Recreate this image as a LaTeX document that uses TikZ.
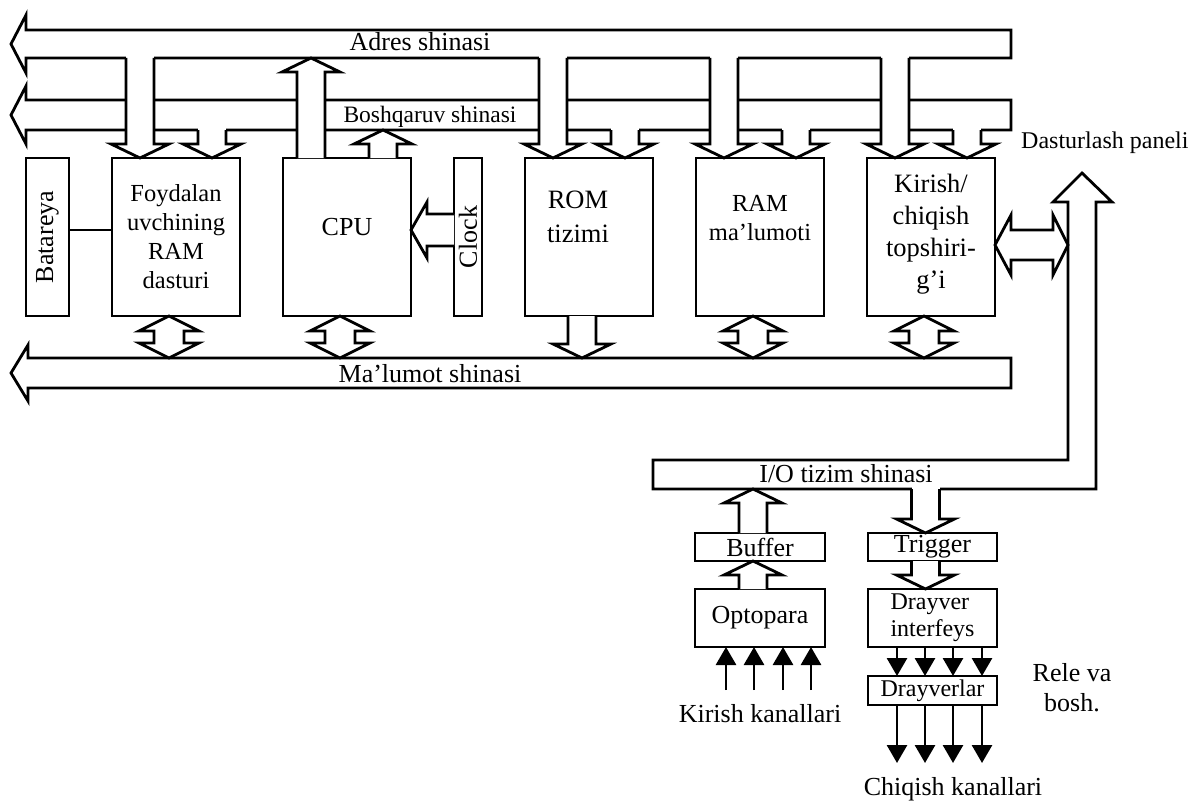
\documentclass[tikz,border=0pt]{standalone}
\usepackage{fontspec}
\setmainfont{Liberation Serif}
\usepackage{tikz}
\usetikzlibrary{arrows.meta, positioning, calc}

\tikzset{
  fatline/.style={draw=black, line width=2.8pt, line join=miter},
  busline/.style={draw=black, fill=white, line width=2.8pt, line join=miter},
  unitbox/.style={draw, fill=white, line width=2.8pt, anchor=north west, inner sep=0pt, outer sep=0pt,
    minimum width=128pt, minimum height=158pt},
  smallbox/.style={draw, fill=white, line width=2.8pt, anchor=north west, inner sep=0pt, outer sep=0pt,
    minimum width=129pt, minimum height=28pt, font=\fontsize{26}{30}\selectfont},
  boxtext/.style={align=center, inner sep=0pt, font=\fontsize{26}{30}\selectfont},
  buslabel/.style={inner sep=0pt, anchor=base, font=\fontsize{26}{30}\selectfont},
  wire/.style={line width=2.8pt, -{Triangle[length=18pt, width=20pt]}},
}

% wide arrows, drawn as outlines
\newcommand{\fatdown}[2]{%
  \filldraw[fatline, fill=white] ($(#1)+(-14,0)$) -- ($(#2)+(-14,-14)$) -- ($(#2)+(-29,-14)$) -- (#2)
    -- ($(#2)+(29,-14)$) -- ($(#2)+(14,-14)$) -- ($(#1)+(14,0)$);
}
\newcommand{\busdrop}[2]{%
  \fill[white] ($(#1)+(-14,-2)$) rectangle ($(#1)+(14,2)$);
  \fatdown{#1}{#2}
}
\newcommand{\fatup}[2]{%
  \filldraw[fatline, fill=white] ($(#1)+(-14,0)$) -- ($(#2)+(-14,14)$) -- ($(#2)+(-29,14)$) -- (#2)
    -- ($(#2)+(29,14)$) -- ($(#2)+(14,14)$) -- ($(#1)+(14,0)$);
}
\newcommand{\fatleft}[2]{%
  \filldraw[fatline, fill=white] ($(#1)+(0,-16)$) -- ($(#2)+(16,-16)$) -- ($(#2)+(16,-28)$) -- (#2)
    -- ($(#2)+(16,28)$) -- ($(#2)+(16,16)$) -- ($(#1)+(0,16)$);
}
\newcommand{\dualv}[2]{%
  \filldraw[fatline, fill=white] (#1) -- ($(#1)+(30,15)$) -- ($(#1)+(15,15)$) -- ($(#2)+(15,-15)$)
    -- ($(#2)+(30,-15)$) -- (#2) -- ($(#2)+(-30,-15)$) -- ($(#2)+(-15,-15)$) -- ($(#1)+(-15,15)$)
    -- ($(#1)+(-30,15)$) -- cycle;
}
\newcommand{\dualh}[2]{%
  \filldraw[fatline, fill=white] (#1) -- ($(#1)+(16,-30)$) -- ($(#1)+(16,-15)$) -- ($(#2)+(-15,-15)$)
    -- ($(#2)+(-15,-30)$) -- (#2) -- ($(#2)+(-15,30)$) -- ($(#2)+(-15,15)$) -- ($(#1)+(16,15)$)
    -- ($(#1)+(16,30)$) -- cycle;
}

\begin{document}
\begin{tikzpicture}[x=1pt, y=-1pt]
  \useasboundingbox (0,0) rectangle (1193,800);

  % buses
  \draw[busline] (1011,30) -- (26,30) -- (26,15) -- (11,44) -- (26,73) -- (26,58) -- (1011,58) -- cycle;
  \draw[busline] (1011,100) -- (26,100) -- (26,86) -- (11,115) -- (26,144) -- (26,130) -- (1011,130) -- cycle;
  \draw[busline] (1011,358) -- (28,358) -- (28,345) -- (11,373) -- (28,401) -- (28,388) -- (1011,388) -- cycle;
  \draw[busline] (1068,202) -- (1068,460) -- (653,460) -- (653,489) -- (1096,489) -- (1096,202)
    -- (1112,202) -- (1082,173) -- (1053,202) -- cycle;
  \coordinate (adrS) at (0,58);
  \coordinate (ctlS) at (0,130);
  \coordinate (datN) at (0,358);
  \coordinate (ioS) at (0,489);
  \coordinate (panW) at (1068,0);

  \node[buslabel] (adrlbl) at (420,51) {Adres shinasi};
  \node[buslabel, font=\fontsize{23.5}{28}\selectfont] (ctllbl) at (430,122) {Boshqaruv shinasi};
  \node[buslabel] (datlbl) at (430,382) {Ma’lumot shinasi};
  \node[buslabel] (iolbl) at (846,482) {I/O tizim shinasi};
  \node[buslabel, anchor=base west, font=\fontsize{24}{28}\selectfont] (panlbl) at (1021,148) {Dasturlash paneli};

  % main blocks
  \node[unitbox, minimum width=43pt] (bat) at (26,158) {};
  \node[unitbox, right=43pt of bat] (user) {};
  \node[unitbox, right=43pt of user] (cpu) {};
  \node[unitbox, minimum width=28pt, right=43pt of cpu] (clk) {};
  \node[unitbox, right=43pt of clk] (rom) {};
  \node[unitbox, right=43pt of rom] (ram) {};
  \node[unitbox, right=43pt of ram] (io) {};

  \node[boxtext, rotate=90] (battxt) at (bat.center) {Batareya};
  \node[boxtext, font=\fontsize{24.5}{29}\selectfont] (usertxt) at (user.center) {Foydalan\\uvchining\\RAM\\dasturi};
  \node[boxtext] (cputxt) at ([yshift=10pt]cpu.center) {CPU};
  \node[boxtext, rotate=90] (clktxt) at (clk.center) {Clock};
  \node[boxtext, font=\fontsize{26.5}{34}\selectfont] (romtxt) at ([xshift=-11pt, yshift=20pt]rom.center) {ROM\\tizimi};
  \node[boxtext, font=\fontsize{24.5}{29}\selectfont] (ramtxt) at ([yshift=19pt]ram.center) {RAM\\ma’lumoti};
  \node[boxtext, font=\fontsize{26.5}{32}\selectfont] (iotxt) at ([yshift=3pt]io.center) {Kirish/\\chiqish\\topshiri-\\g’i};

  % address and control lines into the blocks
  \foreach \b in {user,rom,ram,io}{
    \coordinate (\b a) at ([xshift=28pt]\b.north west);
    \coordinate (\b c) at ([xshift=-28pt]\b.north east);
    \busdrop{\b a |- adrS}{\b a}
    \busdrop{\b c |- ctlS}{\b c}
  }
  \coordinate (cpua) at ([xshift=28pt]cpu.north west);
  \coordinate (cpuc) at ([xshift=-28pt]cpu.north east);
  \fatup{cpua}{cpua |- adrS}
  \fatup{cpuc}{cpuc |- ctlS}

  % data bus
  \foreach \b in {user,cpu,ram,io}{
    \coordinate (\b d) at ([xshift=-7pt]\b.south);
    \dualv{\b d}{\b d |- datN}
  }
  \coordinate (romd) at ([xshift=-7pt]rom.south);
  \fatdown{romd}{romd |- datN}

  \draw[fatline] ([yshift=7pt]bat.east) -- ([yshift=7pt]user.west);
  \coordinate (clkw) at ([yshift=7pt]clk.west);
  \fatleft{clkw}{clkw -| cpu.east}
  \coordinate (ioe) at ([yshift=-8pt]io.east);
  \dualh{ioe}{ioe -| panW}

  % input / output part
  \node[smallbox, minimum width=130pt] (buf) at (695,533) {Buffer};
  \node[smallbox, minimum width=130pt, minimum height=58pt, below=28pt of buf] (opto) {Optopara};
  \node[smallbox] (trig) at (868,533) {Trigger};
  \node[smallbox, minimum height=58pt, below=28pt of trig, align=left,
    font=\fontsize{24}{27}\selectfont] (drvi) {Drayver\\interfeys};
  \node[smallbox, minimum height=29pt, below=29pt of drvi, font=\fontsize{24}{28}\selectfont] (drv) {Drayverlar};

  \coordinate (bufu) at ([xshift=-7pt]buf.north);
  \fatup{bufu}{bufu |- ioS}
  \coordinate (optu) at ([xshift=-7pt]opto.north);
  \fatup{optu}{optu |- buf.south}
  \coordinate (trgd) at ([xshift=-7pt]trig.north);
  \busdrop{trgd |- ioS}{trgd}
  \coordinate (drvd) at ([xshift=-7pt]drvi.north);
  \fatdown{drvd |- trig.south}{drvd}

  \foreach \dx in {31,59,88,116}{
    \coordinate (inpt) at ([xshift=\dx, yshift=-43]opto.south west);
    \draw[wire] (inpt) -- (inpt |- opto.south);
  }
  \foreach \dx in {29,57,85,114}{
    \draw[wire] ([xshift=\dx]drvi.south west) -- ([xshift=\dx]drv.north west);
    \coordinate (outpt) at ([xshift=\dx, yshift=-58]drv.south west);
    \draw[wire] ([xshift=\dx]drv.south west) -- (outpt);
  }

  \node[buslabel] (inlbl) at (760,722) {Kirish kanallari};
  \node[buslabel] (outlbl) at (953,795) {Chiqish kanallari};
  \node[boxtext] (relelbl) at (1072,688) {Rele va\\bosh.};
\end{tikzpicture}
\end{document}
